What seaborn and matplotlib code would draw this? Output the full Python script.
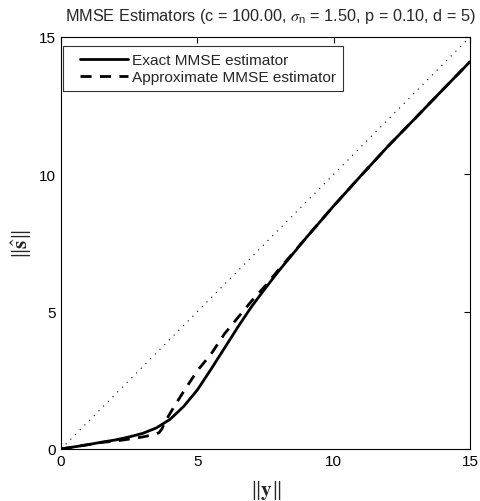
import numpy as np
import pandas as pd
import matplotlib
matplotlib.use("Agg")
import matplotlib.pyplot as plt
import seaborn as sns
from matplotlib.lines import Line2D
from matplotlib.legend_handler import HandlerLine2D

# Data
y_norm_exact = [0, 0.5, 1, 1.5, 2, 2.5, 3, 3.5, 4, 4.5, 5, 5.5, 6, 6.5, 7, 7.5, 8, 9, 10, 11, 12, 13, 14, 15]
s_exact = [0, 0.08, 0.16, 0.25, 0.33, 0.44, 0.57, 0.77, 1.08, 1.55, 2.15, 2.9, 3.68, 4.46, 5.2, 5.86, 6.5, 7.7, 8.85, 9.95, 11.03, 12.05, 13.08, 14.1]

y_norm_approx = [0, 0.5, 1, 1.5, 2, 2.5, 3, 3.3, 3.5, 3.6, 3.7, 3.8, 4, 4.5, 5, 5.5, 6, 6.5, 7, 7.5, 8, 9, 10, 11, 12, 13, 14, 15]
s_approx = [0, 0.08, 0.16, 0.24, 0.29, 0.36, 0.44, 0.5, 0.55, 0.6, 0.73, 0.95, 1.3, 2.1, 2.85, 3.45, 4.2, 4.8, 5.4, 5.95, 6.55, 7.7, 8.85, 9.95, 11.03, 12.05, 13.08, 14.1]

identity = [0, 15]
ticks = [0, 5, 10, 15]

sns.set_style("white")
plt.rcParams['font.family'] = ['Liberation Sans', 'DejaVu Sans']
plt.rcParams['mathtext.fontset'] = 'stix'

fig = plt.figure(figsize=(4.8, 5.02), dpi=100)
ax = fig.add_axes([61/480, 52/502, 409/480, 412/502])

df_e = pd.DataFrame({"y": y_norm_exact, "s": s_exact})
df_a = pd.DataFrame({"y": y_norm_approx, "s": s_approx})
df_i = pd.DataFrame({"y": identity, "s": identity})

sns.lineplot(data=df_e, x="y", y="s", ax=ax, color="black", lw=2.0,
             label="Exact MMSE estimator", sort=False)
sns.lineplot(data=df_a, x="y", y="s", ax=ax, color="black", lw=2.0,
             linestyle=(0, (4, 3)), label="Approximate MMSE estimator", sort=False)
sns.lineplot(data=df_i, x="y", y="s", ax=ax, color="black", lw=0.8,
             linestyle=(0, (1, 5)), sort=False)

ax.set_xlim(0, 15)
ax.set_ylim(0, 15)
ax.set_xticks(ticks)
ax.set_yticks(ticks)
ax.tick_params(direction="in", top=True, right=True, length=4, width=0.8,
               labelsize=11, colors="black")
for sp in ax.spines.values():
    sp.set_color("black")
    sp.set_linewidth(0.8)

ax.set_xlabel(r"$\|\mathbf{y}\|$", fontsize=15, labelpad=7)
ax.set_ylabel(r"$\|\hat{\mathbf{s}}\|$", fontsize=15, labelpad=4)
ax.set_title(r"MMSE Estimators (c = 100.00, $\sigma_{\mathregular{n}}$ = 1.50, p = 0.10, d = 5)",
             fontsize=11.7, pad=12, x=0.513)

leg = ax.legend(loc="upper left", bbox_to_anchor=(0.005, 0.978), fontsize=11.1,
                frameon=True, fancybox=False, edgecolor="black", handlelength=3.75,
                borderaxespad=0, labelspacing=0.2, borderpad=0.45, handletextpad=0.3,
                handler_map={Line2D: HandlerLine2D(xpad=0.65)})
leg.get_frame().set_linewidth(0.8)

fig.savefig("out.png", dpi=100)
